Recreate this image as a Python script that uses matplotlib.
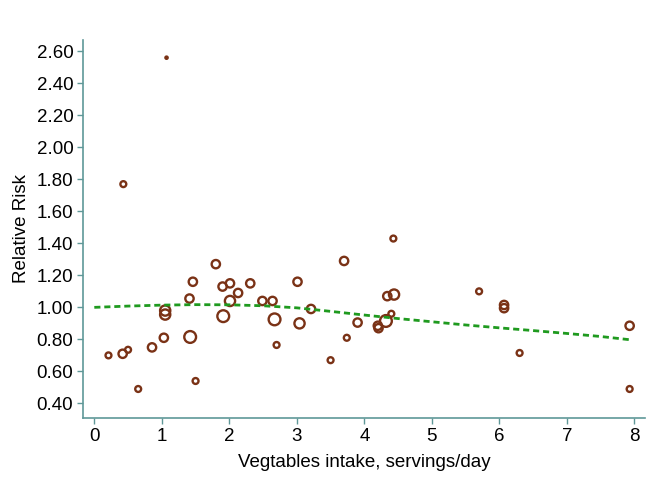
import matplotlib
matplotlib.use('Agg')
import matplotlib.pyplot as plt

plt.rcParams['font.family'] = ['Liberation Sans', 'DejaVu Sans']

# study estimates: intake (servings/day), relative risk, study weight
intake = [0.21, 0.42, 0.50, 0.65, 0.43, 1.07, 0.855, 1.03, 1.05, 1.05,
          1.42, 1.41, 1.46, 1.50, 1.80, 1.90, 2.01, 2.13, 2.01, 1.91,
          2.31, 2.49, 2.64, 2.67, 2.70, 3.01, 3.04, 3.21, 3.50, 3.70,
          3.74, 3.90, 4.20, 4.21, 4.32, 4.40, 4.34, 4.44, 4.43, 5.70,
          6.07, 6.07, 6.30, 7.93, 7.93]
rr = [0.70, 0.71, 0.735, 0.49, 1.77, 2.56, 0.75, 0.81, 0.98, 0.955,
      0.815, 1.055, 1.16, 0.54, 1.27, 1.13, 1.15, 1.09, 1.04, 0.945,
      1.15, 1.04, 1.04, 0.925, 0.765, 1.16, 0.90, 0.99, 0.67, 1.29,
      0.81, 0.905, 0.885, 0.87, 0.915, 0.96, 1.07, 1.08, 1.43, 1.10,
      1.015, 0.995, 0.715, 0.885, 0.49]
weight = [1, 2, 1, 1, 1, 0.15, 2, 2, 3, 3,
          4, 2, 2, 1, 2, 2, 2, 2, 3, 4,
          2, 2, 2, 4, 1, 2, 3, 2, 1, 2,
          1, 2, 2, 2, 4, 1, 2, 3, 1, 1,
          2, 2, 1, 2, 1]

# fitted dose-response curve
fit_x = [0, 0.5, 1, 1.5, 2, 2.5, 3, 3.5, 4, 4.5, 5, 5.5, 6, 6.5, 7, 7.5, 7.95]
fit_y = [1.00, 1.008, 1.014, 1.017, 1.016, 1.01, 0.997, 0.975, 0.952, 0.93,
         0.91, 0.89, 0.872, 0.855, 0.837, 0.818, 0.797]

yticks = [0.40, 0.60, 0.80, 1.00, 1.20, 1.40, 1.60, 1.80, 2.00, 2.20, 2.40, 2.60]
xticks = [0, 1, 2, 3, 4, 5, 6, 7, 8]

fig = plt.figure(figsize=(6.59, 4.83), dpi=100)
ax = fig.add_axes([0.126, 0.135, 0.853, 0.782])

axis_col = '#5f9898'
sizes = [w * 18 for w in weight]
ax.scatter(intake, rr, s=sizes, facecolors='none', edgecolors='#7a3216', linewidths=1.7, zorder=2)
ax.plot(fit_x, fit_y, color='#1f9a1f', linestyle=(0, (2.2, 1.4)), linewidth=2, zorder=3)

ax.set_xlim(-0.167, 8.16)
ax.set_ylim(0.31, 2.67)
ax.set_xticks(xticks)
ax.set_yticks(yticks)
ax.set_yticklabels(['%.2f' % v for v in yticks])

for s in ['top', 'right']:
    ax.spines[s].set_visible(False)
for s in ['left', 'bottom']:
    ax.spines[s].set_color(axis_col)
    ax.spines[s].set_linewidth(1.2)
ax.tick_params(colors=axis_col, labelcolor='black', labelsize=13.5, length=4, width=1)
ax.tick_params(axis='y', pad=3)

ax.set_xlabel('Vegtables intake, servings/day', fontsize=13.5, labelpad=6)
ax.set_ylabel('Relative Risk', fontsize=13.5, labelpad=5)

fig.savefig('out.png', dpi=100)
